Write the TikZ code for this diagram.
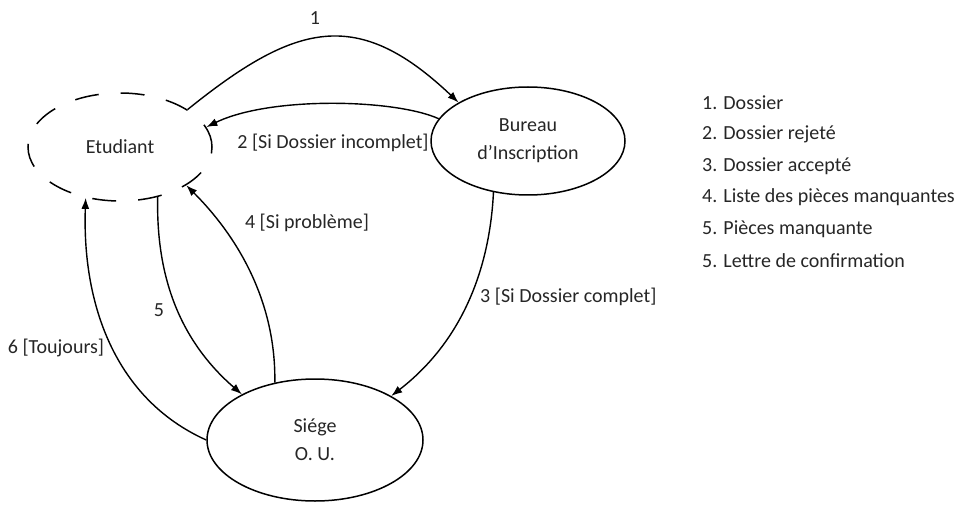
\documentclass[tikz,border=0pt]{standalone}
\usepackage{fontspec}
\setmainfont{Carlito}
\usetikzlibrary{arrows.meta,shapes.geometric}
\begin{document}
\begin{tikzpicture}[x=1pt,y=1pt,
  txt/.style={font=\fontsize{20}{28}\selectfont, text=black!85},
  actor/.style={ellipse, draw, line width=1.5pt, inner sep=0pt, align=center, txt},
  flow/.style={line width=1.4pt, -{Latex[length=11pt,width=8pt]}},
  lbl/.style={txt, inner sep=0pt},
  legend/.style={txt, inner sep=0pt, anchor=west}]
\useasboundingbox (0,0) rectangle (960,504);

% actors
\node[actor, dash pattern=on 24pt off 22pt, minimum width=184pt, minimum height=108pt] (etu) at (120,357) {Etudiant};
\node[actor, minimum width=194pt, minimum height=108pt] (bur) at (528,363) {Bureau\\d'Inscription};
\node[actor, minimum width=216pt, minimum height=122pt] (sie) at (315,64) {Siége\\O. U.};

% exchanges
\draw[flow] (etu.29) .. controls (295,481) and (357,498) .. (bur.151);
\draw[flow] (bur.166) .. controls (395,405) and (270,408) .. (etu.13);
\draw[flow] (bur.-124) .. controls (490,240) and (465,165) .. (sie.30);
\draw[flow] (sie.125) .. controls (276,200) and (240,265) .. (etu.-30);
\draw[flow] (etu.-53.5) .. controls (156,230) and (178,165) .. (sie.148);
\draw[flow] (sie.180) .. controls (115,105) and (82,200) .. (etu.-124);

% exchange labels
\node[lbl] (l1) at (315,486) {1};
\node[lbl] (l2) at (333,361) {2 [Si Dossier incomplet]};
\node[lbl, anchor=west] (l3) at (480,207) {3 [Si Dossier complet]};
\node[lbl] (l4) at (307,281) {4 [Si problème]};
\node[lbl] (l5) at (159,194) {5};
\node[lbl] (l6) at (56,156) {6 [Toujours]};

% legend
\node[legend] (leg1) at (702,401) {1. Dossier};
\node[legend] (leg2) at (702,369.5) {2. Dossier rejeté};
\node[legend] (leg3) at (702,338) {3. Dossier accepté};
\node[legend] (leg4) at (702,306.5) {4. Liste des pièces manquantes};
\node[legend] (leg5) at (702,275) {5. Pièces manquante};
\node[legend] (leg6) at (702,243.5) {5. Lettre de confirmation};
\end{tikzpicture}
\end{document}
